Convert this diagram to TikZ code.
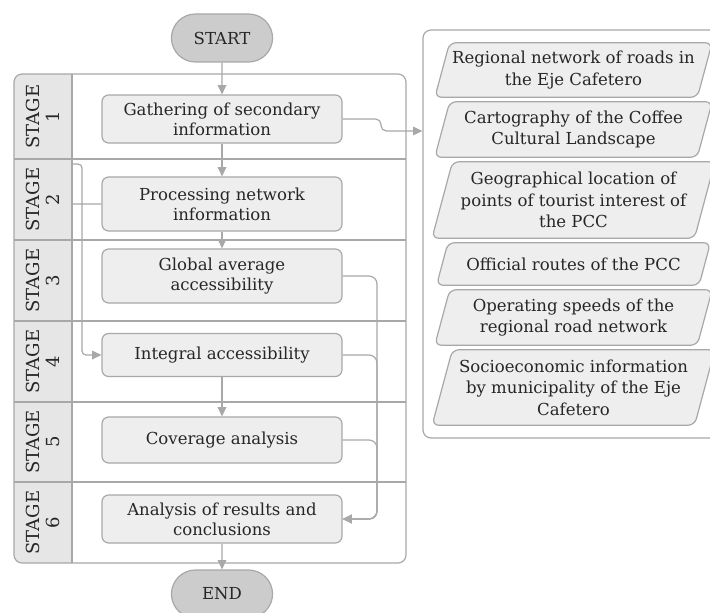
\documentclass[tikz,border=0pt]{standalone}
\usepackage{fontspec}
\setmainfont{DejaVu Serif}
\usetikzlibrary{arrows.meta,calc,shapes.misc}
\pgfdeclarelayer{bg}
\pgfdeclarelayer{lane}
\pgfsetlayers{bg,lane,main}
\definecolor{txt}{HTML}{262626}
\definecolor{edgec}{HTML}{A8A8A8}
\definecolor{boxfill}{HTML}{EEEEEE}
\definecolor{termfill}{HTML}{CCCCCC}
\definecolor{lanefill}{HTML}{E6E6E6}
\begin{document}
\begin{tikzpicture}[x=0.75pt,y=-0.75pt,
  font=\fontsize{12.4}{15}\selectfont, text=txt,
  proc/.style={draw=edgec,line width=0.9pt,fill=boxfill,rounded corners=5pt,
    minimum width=180pt,align=center,inner sep=0pt},
  term/.style={draw=edgec,line width=0.9pt,fill=termfill,rounded rectangle,
    minimum width=82.5pt,minimum height=36pt},
  lanebox/.style={draw=edgec,line width=0.9pt,rounded corners=6pt,inner sep=0pt},
  ptext/.style={rectangle,minimum width=196.5pt,align=center,inner sep=0pt,
    font=\fontsize{12.4}{16}\selectfont},
  pshape/.style={draw=edgec,line width=0.9pt,fill=boxfill,rounded corners=5pt},
  conn/.style={draw=edgec,line width=0.9pt,rounded corners=4pt},
  arr/.style={conn,-{Triangle[length=7pt,width=6.5pt]}},
  stagelbl/.style={rotate=90,align=center,inner sep=0pt,font=\fontsize{13.5}{15}\selectfont}]
\useasboundingbox (0,0) rectangle (710,613);

% containers
\node[lanebox,minimum width=294pt,minimum height=366.75pt] (main) at (210,318.5) {};
\node[lanebox,minimum width=222.75pt,minimum height=306pt] (rc) at (571.5,234) {};

% stage column
\begin{pgfonlayer}{lane}
\fill[lanefill] (72,74) {[rounded corners=6pt] -- (14,74) -- (14,563)} -- (72,563) -- cycle;
\end{pgfonlayer}
\draw[edgec,line width=0.9pt] (72,74) -- (72,563);
\foreach \yy in {159,240,321,402,482}
  \draw[edgec,line width=0.9pt] (14,\yy) -- (406,\yy);

\node[stagelbl] (s1) at (43,116.5) {STAGE\\1};
\node[stagelbl] (s2) at (43,199.5) {STAGE\\2};
\node[stagelbl] (s3) at (43,280.5) {STAGE\\3};
\node[stagelbl] (s4) at (43,361.5) {STAGE\\4};
\node[stagelbl] (s5) at (43,442) {STAGE\\5};
\node[stagelbl] (s6) at (43,522.5) {STAGE\\6};

% terminals
\node[term] (start) at (222,38) {START};
\node[term] (end) at (222,594) {END};

% process boxes
\node[proc,minimum height=36pt] (b1) at (222,119) {Gathering of secondary\\information};
\node[proc,minimum height=40.5pt] (b2) at (222,204) {Processing network\\information};
\node[proc,minimum height=40.5pt] (b3) at (222,276) {Global average\\accessibility};
\node[proc,minimum height=32.25pt] (b4) at (222,355) {Integral accessibility};
\node[proc,minimum height=34.5pt] (b5) at (222,440) {Coverage analysis};
\node[proc,minimum height=36pt] (b6) at (222,519) {Analysis of results and\\conclusions};

% data parallelograms
\node[ptext,minimum height=40.5pt] (p1) at (573.5,70) {Regional network of roads in\\the Eje Cafetero};
\node[ptext,minimum height=41.25pt] (p2) at (573.5,129.5) {Cartography of the Coffee\\Cultural Landscape};
\node[ptext,minimum height=57pt] (p3) at (573.5,200) {Geographical location of\\points of tourist interest of\\the PCC};
\node[ptext,minimum height=31.5pt] (p4) at (573.5,264) {Official routes of the PCC};
\node[ptext,minimum height=41.25pt] (p5) at (573.5,317.5) {Operating speeds of the\\regional road network};
\node[ptext,minimum height=56.25pt] (p6) at (573.5,387.5) {Socioeconomic information\\by municipality of the Eje\\Cafetero};
\begin{pgfonlayer}{lane}
\foreach \n/\s in {p1/5.5pt,p2/5.6pt,p3/7.7pt,p4/4.25pt,p5/5.6pt,p6/7.6pt}
  \draw[pshape] ([xshift=-\s]\n.south west) -- ([xshift=\s]\n.north west)
    -- ([xshift=\s]\n.north east) -- ([xshift=-\s]\n.south east) -- cycle;
\end{pgfonlayer}

% connectors
\draw[arr] (start) -- (b1);
\draw[arr] (b1) -- (b2);
\draw[arr] (b2) -- (b3);
\draw[arr] (b4) -- (b5);
\draw[arr] (b6) -- (end);

\coordinate (j1) at (0,131);
\draw[arr] (b1.east) -- (381,119) -- (381,131) -- (rc.west |- j1);

\begin{pgfonlayer}{bg}
\draw[arr,rounded corners=3pt] (b2.west) -- (66,204) -- (66,164) -- (82,164) -- (82,355) -- (b4.west);
\end{pgfonlayer}

\coordinate (rx) at (377,0);
\draw[arr,rounded corners=6pt] (b3.east) -| (rx |- b6.east) -- (b6.east);
\draw[arr,rounded corners=6pt] (b4.east) -| (rx |- b6.east) -- (b6.east);
\draw[arr,rounded corners=6pt] (b5.east) -| (rx |- b6.east) -- (b6.east);
\end{tikzpicture}
\end{document}
